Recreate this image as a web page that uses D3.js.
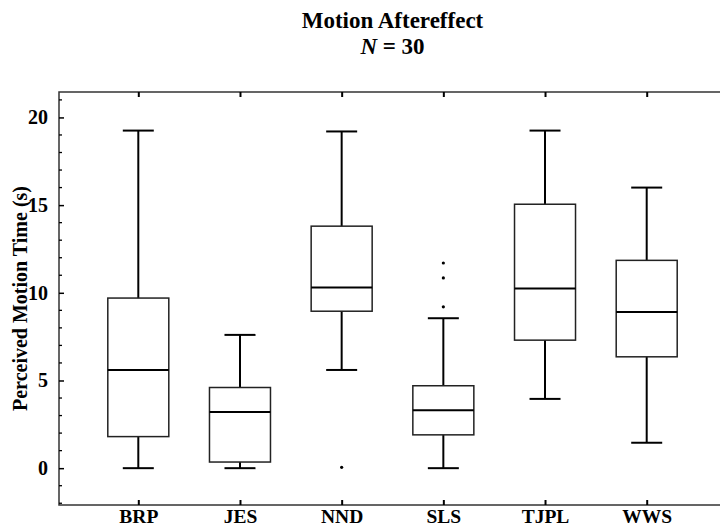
<!DOCTYPE html>
<meta charset="utf-8">
<style>
body { margin: 0; background: #fff; }
text { font-family: "Liberation Serif", "Times New Roman", serif; font-weight: bold; fill: #000; }
</style>
<svg width="720" height="526"></svg>
<script src="https://d3js.org/d3.v7.min.js"></script>
<script>

// dados
var grupos   = ["BRP", "JES", "NND", "SLS", "TJPL", "WWS"];
var minimo   = [0.0, 0.0, 5.6, 0.0, 3.95, 1.45];
var q1       = [1.8, 0.35, 8.95, 1.9, 7.3, 6.35];
var mediana  = [5.6, 3.2, 10.3, 3.3, 10.25, 8.9];
var q3       = [9.7, 4.6, 13.8, 4.7, 15.05, 11.85];
var maximo   = [19.25, 7.6, 19.2, 8.55, 19.25, 16.0];
var outliers = [[], [], [0.05], [9.2, 10.85, 11.7], [], []];
var yTicks   = [0, 5, 10, 15, 20];

var svg = d3.select("svg");

var mLeft = 59, mRight = 726, mTop = 92, mBottom = 505;

var x = d3.scalePoint()
    .domain(grupos)
    .range([138.3, 646.7]);

var y = d3.scaleLinear()
    .domain([-2.1, 21.45])
    .range([mBottom, mTop]);

var boxW = 61, capW = 31;

// moldura
svg.append("rect")
    .attr("x", mLeft).attr("y", mTop)
    .attr("width", mRight - mLeft).attr("height", mBottom - mTop)
    .attr("fill", "none")
    .attr("stroke", "#333")
    .attr("stroke-width", 1.5);

// eixo y com ticks para dentro
var yAxis = d3.axisLeft(y).tickValues(yTicks).tickSize(-5).tickPadding(11).tickFormat(d3.format("d"));
var gy = svg.append("g").attr("transform", "translate(" + mLeft + ",0)").call(yAxis);
gy.select(".domain").remove();
gy.selectAll("text").style("font-size", "20px");
gy.selectAll("line").attr("stroke-width", 1.5);

var minor = d3.range(-2, 22).filter(d => d % 5 !== 0);
svg.append("g").selectAll("line")
    .data(minor).enter().append("line")
    .attr("x1", mLeft).attr("x2", mLeft + 3)
    .attr("y1", d => y(d)).attr("y2", d => y(d))
    .attr("stroke", "#000").attr("stroke-width", 1.3);

// eixo x
var xAxis = d3.axisBottom(x).tickSize(-5).tickPadding(4);
var gx = svg.append("g").attr("transform", "translate(0," + mBottom + ")").call(xAxis);
gx.select(".domain").remove();
gx.selectAll("text").style("font-size", "19.5px");
gx.selectAll("line").attr("stroke-width", 2);

var xTop = d3.axisTop(x).tickSize(-5).tickFormat("");
var gt = svg.append("g").attr("transform", "translate(0," + mTop + ")").call(xTop);
gt.select(".domain").remove();
gt.selectAll("line").attr("stroke-width", 2);

// caixas
var g = svg.append("g")
  .selectAll("g")
  .data(grupos)
  .enter().append("g")
    .attr("transform", d => "translate(" + x(d) + ",0)");

g.append("line")
    .attr("y1", (d, i) => y(maximo[i])).attr("y2", (d, i) => y(q3[i]))
    .attr("stroke", "#000").attr("stroke-width", 2);
g.append("line")
    .attr("y1", (d, i) => y(q1[i])).attr("y2", (d, i) => y(minimo[i]))
    .attr("stroke", "#000").attr("stroke-width", 2);
g.append("line")
    .attr("x1", -capW / 2).attr("x2", capW / 2)
    .attr("y1", (d, i) => y(maximo[i])).attr("y2", (d, i) => y(maximo[i]))
    .attr("stroke", "#000").attr("stroke-width", 2);
g.append("line")
    .attr("x1", -capW / 2).attr("x2", capW / 2)
    .attr("y1", (d, i) => y(minimo[i])).attr("y2", (d, i) => y(minimo[i]))
    .attr("stroke", "#000").attr("stroke-width", 2);
g.append("rect")
    .attr("x", -boxW / 2).attr("width", boxW)
    .attr("y", (d, i) => y(q3[i]))
    .attr("height", (d, i) => y(q1[i]) - y(q3[i]))
    .attr("fill", "none").attr("stroke", "#222").attr("stroke-width", 1.5);
g.append("line")
    .attr("x1", -boxW / 2).attr("x2", boxW / 2)
    .attr("y1", (d, i) => y(mediana[i])).attr("y2", (d, i) => y(mediana[i]))
    .attr("stroke", "#000").attr("stroke-width", 2);
g.selectAll("circle")
    .data((d, i) => outliers[i])
    .enter().append("circle")
    .attr("r", 1.6)
    .attr("cy", d => y(d))
    .attr("fill", "#000");

// títulos
var cx = (mLeft + mRight) / 2;
svg.append("text")
    .attr("x", cx).attr("y", 28)
    .attr("text-anchor", "middle")
    .style("font-size", "23px")
    .text("Motion Aftereffect");
var t2 = svg.append("text")
    .attr("x", cx).attr("y", 54)
    .attr("text-anchor", "middle")
    .style("font-size", "23px");
t2.append("tspan").style("font-style", "italic").text("N");
t2.append("tspan").text(" = 30");

svg.append("text")
    .attr("transform", "translate(27," + (mTop + mBottom) / 2 + ") rotate(-90)")
    .attr("text-anchor", "middle")
    .style("font-size", "20px")
    .text("Perceived Motion Time (s)");

</script>
